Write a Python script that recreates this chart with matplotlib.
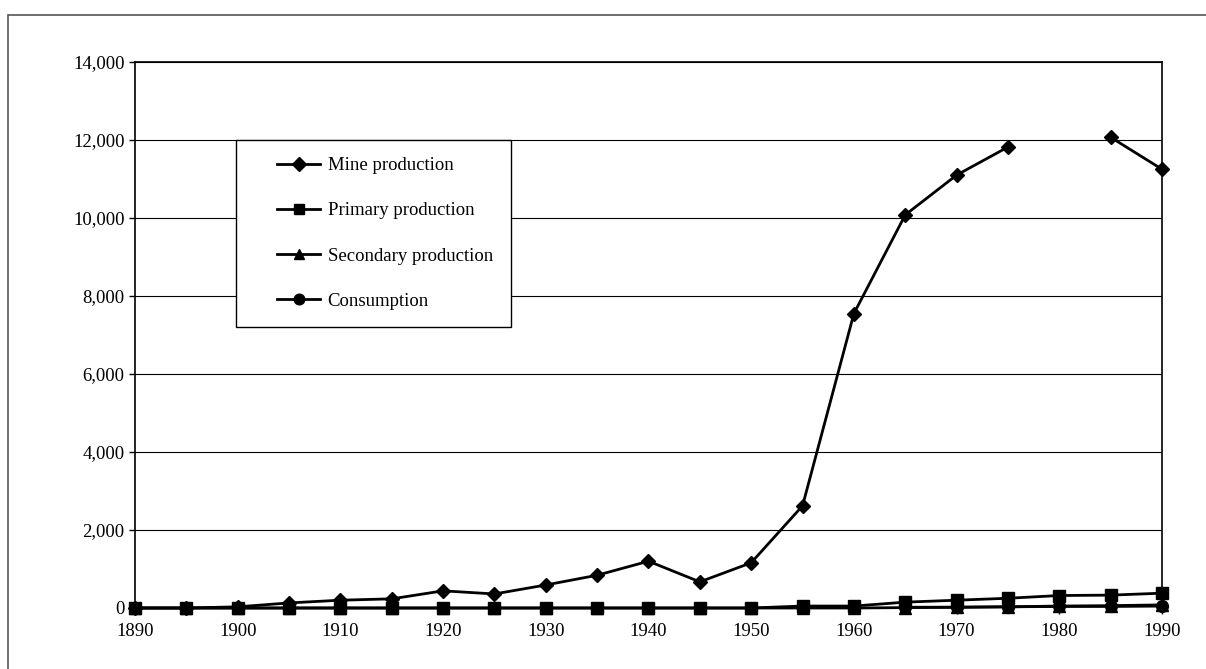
import numpy as np
import matplotlib.pyplot as plt
from matplotlib.patches import Rectangle

plt.rcParams['font.family'] = ['Liberation Serif', 'DejaVu Serif']

years = list(range(1890, 1995, 5))
mine = [0, 0, 30, 130, 200, 235, 440, 360, 590, 840, 1200, 670, 1160, 2620,
        7550, 10080, 11100, 11820, np.nan, 12070, 11250]
primary = [0, 0, 0, 0, 0, 0, 0, 0, 0, 0, 0, 0, 0, 50,
           50, 150, 200, 250, 320, 330, 380]
secondary = [0, 0, 0, 0, 0, 0, 0, 0, 0, 0, 0, 0, 0, 0,
             0, 10, 20, 30, 50, 60, 80]
consumption = [np.nan] * 15 + [20, 20, 30, 40, 40, 50]

fig = plt.figure(figsize=(12.06, 6.69), dpi=100)
ax = fig.add_axes([135 / 1206, 1 - 608 / 669, (1162 - 135) / 1206, (608 - 62) / 669])

# outer frame round the whole chart
fig.patches.append(Rectangle((8 / 1206, -0.05), 1.1, 1 - 15 / 669 + 0.05,
                             transform=fig.transFigure, fill=False,
                             edgecolor='#555555', linewidth=1.2))

style = dict(color='black', linewidth=2, markersize=8.5, clip_on=False)
ax.plot(years, mine, marker='D', label='Mine production',
        color='black', linewidth=2, markersize=7.5, clip_on=False)
ax.plot(years, primary, marker='s', label='Primary production', **style)
ax.plot(years, secondary, marker='^', label='Secondary production', **style)
ax.plot(years, consumption, marker='o', label='Consumption', **style)

ax.set_xlim(1890, 1990)
ax.set_ylim(0, 14000)
ax.set_xticks(range(1890, 2000, 10))
ax.set_yticks(range(0, 16000, 2000))
ax.set_yticklabels([f'{v:,}' for v in range(0, 16000, 2000)])
ax.yaxis.grid(True, color='black', linewidth=0.8)
ax.set_axisbelow(True)
ax.tick_params(axis='both', labelsize=13.5, direction='out', length=4, width=1)
ax.tick_params(axis='x', pad=7)
ax.margins(x=0)
for side in ['left', 'right', 'top', 'bottom']:
    ax.spines[side].set_linewidth(1.2)
ax.spines['bottom'].set_visible(False)

# legend box drawn separately so the entries can sit inset like the original
ax.add_patch(Rectangle((0.0983, 0.5147), 0.2678, 0.3425, transform=ax.transAxes,
                       facecolor='white', edgecolor='black', linewidth=1.0, zorder=4))
leg = ax.legend(loc='upper left', bbox_to_anchor=(0.1383, 0.826), fontsize=13.5,
                frameon=False, labelspacing=1.5, handlelength=2.3,
                handletextpad=0.4, borderpad=0, borderaxespad=0, markerscale=0.9)
leg.set_zorder(5)

fig.savefig('out.png', dpi=100)
